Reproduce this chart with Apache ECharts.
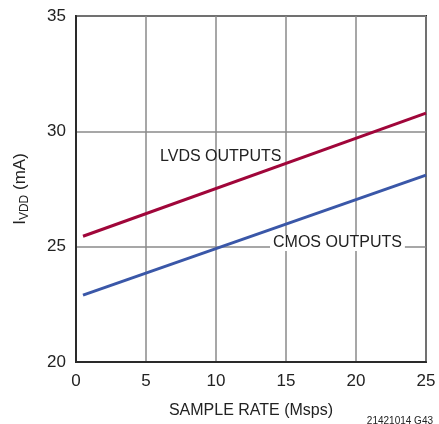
<!DOCTYPE html>
<html><head><meta charset="utf-8">
<script src="https://cdn.jsdelivr.net/npm/echarts@6/dist/echarts.min.js"></script>
<style>html,body{margin:0;padding:0;background:#fff}#c{width:439px;height:424px}</style>
</head><body><div id="c"></div>
<script>
const sampleRate = [0.5, 25];
const lvdsOutputs = [25.45, 30.79];
const cmosOutputs = [22.90, 28.10];
const xTicks = [0, 5, 10, 15, 20, 25];
const yTicks = [20, 25, 30, 35];
const FONT = '"Liberation Sans", Arial, Helvetica, sans-serif';
const chart = echarts.init(document.getElementById('c'), null, {renderer: 'canvas'});
chart.setOption({
  animation: false,
  backgroundColor: '#fff',
  grid: {left: 76, right: 13, top: 16, bottom: 55, show: true, borderColor: '#2a2a2a', borderWidth: 2, backgroundColor: 'transparent'},
  xAxis: {
    type: 'value', min: xTicks[0], max: xTicks[xTicks.length-1], interval: 5,
    name: 'SAMPLE RATE (Msps)', nameLocation: 'middle', nameGap: 41,
    nameTextStyle: {fontFamily: FONT, fontSize: 16, color: '#222'},
    axisLine: {show: true, lineStyle: {color: '#2a2a2a', width: 2}},
    axisTick: {show: false},
    axisLabel: {fontFamily: FONT, fontSize: 17, color: '#222', margin: 11},
    splitLine: {show: true, lineStyle: {color: '#8a8a8a', width: 1.5}}
  },
  yAxis: {
    type: 'value', min: yTicks[0], max: yTicks[yTicks.length-1], interval: 5,
    name: '{i|I}{s|VDD}{i| (mA)}', nameLocation: 'middle', nameRotate: 90, nameGap: 45, nameTextStyle: {
      fontFamily: FONT, color: '#222', padding: [0, 0, 0, 0],
      rich: {
        i: {fontFamily: FONT, fontSize: 17, color: '#222', lineHeight: 22, verticalAlign: 'middle'},
        s: {fontFamily: FONT, fontSize: 12, color: '#222', lineHeight: 22, verticalAlign: 'bottom', padding: [8, 0, 0, 0]}
      }
    },
    axisLine: {show: true, lineStyle: {color: '#2a2a2a', width: 2}},
    axisTick: {show: false},
    axisLabel: {fontFamily: FONT, fontSize: 17, color: '#222', margin: 10},
    splitLine: {show: true, lineStyle: {color: '#8a8a8a', width: 1.5}}
  },
  series: [
    {name: 'LVDS OUTPUTS', type: 'line', data: sampleRate.map((x, i) => [x, lvdsOutputs[i]]),
     showSymbol: false, lineStyle: {color: '#a0063a', width: 3}, z: 3},
    {name: 'CMOS OUTPUTS', type: 'line', data: sampleRate.map((x, i) => [x, cmosOutputs[i]]),
     showSymbol: false, lineStyle: {color: '#3a57a8', width: 3}, z: 3}
  ],
  graphic: [
    {type: 'text', left: 160, top: 149, z: 10, style: {text: 'LVDS OUTPUTS', fontFamily: FONT, fontSize: 16, fill: '#222'}},
    {type: 'text', left: 270, top: 235, z: 10, style: {text: 'CMOS OUTPUTS', fontFamily: FONT, fontSize: 16, fill: '#222', backgroundColor: '#fff', padding: [0, 3, 0, 3]}},
    {type: 'text', right: 6, top: 416, z: 10, style: {text: '21421014 G43', fontFamily: FONT, fontSize: 10, fill: '#222'}}
  ]
});
</script></body></html>
